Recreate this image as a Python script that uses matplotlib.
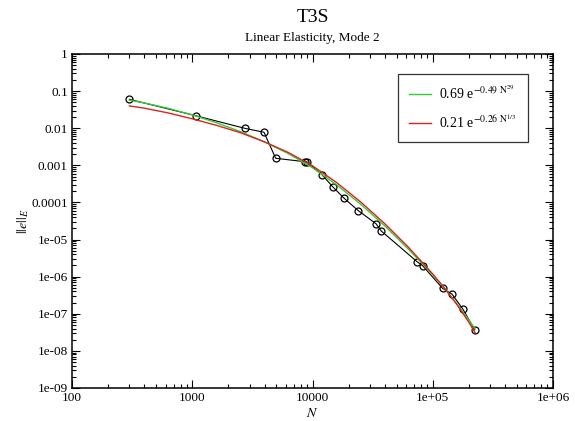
#!/usr/bin/env python
import numpy as np
import matplotlib
matplotlib.use('Agg')
import matplotlib.pyplot as plt
from matplotlib.ticker import FixedLocator, FixedFormatter, LogLocator, NullFormatter

n_dofs = [300, 1070, 2750, 3950, 4940, 8660, 8950, 12060, 14720, 18110,
          24040, 33740, 37330, 74400, 82500, 121000, 144500, 177400, 223400]
err_e  = [0.060, 0.0217, 0.0099, 0.0078, 0.00155, 0.00125, 0.00125, 5.5e-4,
          2.65e-4, 1.34e-4, 6.0e-5, 2.67e-5, 1.70e-5, 2.5e-6, 1.97e-6,
          4.8e-7, 3.4e-7, 1.36e-7, 3.7e-8]

# fitted curves, sampled along the drawn lines
fit_n     = [300, 398, 631, 1000, 1585, 2512, 3981, 6310, 10000, 15850,
             25120, 39810, 63100, 100000, 125900, 158500, 199500, 225000]
fit_green = [0.0570, 0.0481, 0.0344, 0.0229, 0.0141, 0.00813, 0.00429,
             0.00207, 8.6e-4, 3.0e-4, 9.0e-5, 2.36e-5, 5.4e-6, 1.13e-6,
             4.8e-7, 1.87e-7, 6.8e-8, 3.9e-8]
fit_red   = [0.0399, 0.0348, 0.0258, 0.01795, 0.0120, 0.00759, 0.00429,
             0.00221, 9.7e-4, 3.45e-4, 1.035e-4, 2.7e-5, 6.1e-6, 1.18e-6,
             4.8e-7, 1.79e-7, 5.9e-8, 3.1e-8]

label_green = r'0.69 e$^{-0.49\ \mathrm{N}^{29}}$'
label_red   = r'0.21 e$^{-0.26\ \mathrm{N}^{1/3}}$'

xticks      = [1e2, 1e3, 1e4, 1e5, 1e6]
xticklabels = ['100', '1000', '10000', '1e+05', '1e+06']
yticks      = [1e-9, 1e-8, 1e-7, 1e-6, 1e-5, 1e-4, 1e-3, 1e-2, 1e-1, 1]
yticklabels = ['1e-09', '1e-08', '1e-07', '1e-06', '1e-05', '0.0001',
               '0.001', '0.01', '0.1', '1']

plt.rcParams['font.family'] = ['Liberation Serif', 'DejaVu Serif']
plt.rcParams['mathtext.fontset'] = 'stix'

W, H = 575, 421
fig = plt.figure(figsize=(W/100., H/100.), dpi=100)
ax = fig.add_axes([72./W, 1-388./H, 481./W, 334./H])

ax.plot(n_dofs, err_e, color='black', lw=0.8, marker='o', ms=5,
        mfc='none', mec='black', mew=0.9, zorder=2)
ax.plot(fit_n, fit_green, color='#33cc33', lw=1.0, label=label_green, zorder=3)
ax.plot(fit_n, fit_red, color='#dd2222', lw=1.0, label=label_red, zorder=3)

ax.set_xscale('log')
ax.set_yscale('log')
ax.set_xlim(1e2, 1e6)
ax.set_ylim(1e-9, 1)

ax.xaxis.set_major_locator(FixedLocator(xticks))
ax.xaxis.set_major_formatter(FixedFormatter(xticklabels))
ax.yaxis.set_major_locator(FixedLocator(yticks))
ax.yaxis.set_major_formatter(FixedFormatter(yticklabels))
for a in (ax.xaxis, ax.yaxis):
  a.set_minor_locator(LogLocator(base=10, subs=np.arange(2, 10), numticks=100))
  a.set_minor_formatter(NullFormatter())

ax.tick_params(which='both', direction='in', top=True, right=True, width=0.8)
ax.tick_params(which='major', length=6, labelsize=9.5, pad=3)
ax.tick_params(which='minor', length=3.2)
for sp in ax.spines.values():
  sp.set_linewidth(1.1)

ax.set_xlabel(r'$N$', fontsize=10, labelpad=2)
ax.set_ylabel(r'$||e||_E$', fontsize=10, labelpad=0)

fig.text(312.5/W, 1-18./H, 'T3S', ha='center', va='center', fontsize=14)
fig.text(312.5/W, 1-38./H, 'Linear Elasticity, Mode 2', ha='center',
         va='center', fontsize=9.5)

leg = ax.legend(loc='upper right', bbox_to_anchor=(0.948, 0.94),
                fontsize=10, frameon=True, fancybox=False, handlelength=1.6,
                borderpad=0.8, labelspacing=0.8, handletextpad=0.6,
                borderaxespad=0)
leg.get_frame().set_edgecolor('black')
leg.get_frame().set_linewidth(0.9)

fig.savefig('out.png', dpi=100)
